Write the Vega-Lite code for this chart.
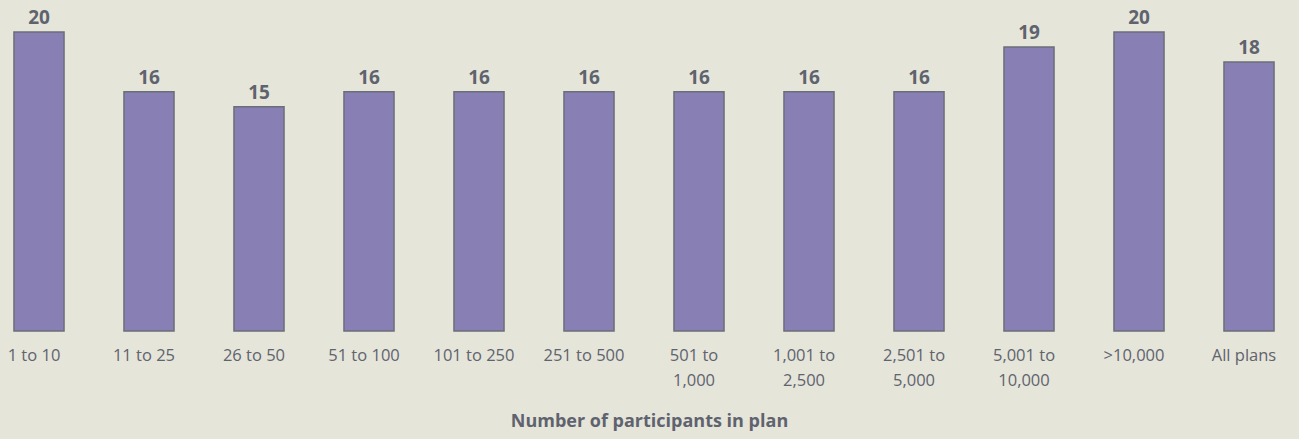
{
  "$schema": "https://vega.github.io/schema/vega-lite/v6.json",
  "width": 1288,
  "height": 299,
  "autosize": {"type": "none"},
  "padding": {"left": 0, "top": 32, "right": 11, "bottom": 108},
  "background": "#e5e5da",
  "config": {
    "view": {"stroke": null},
    "font": "Open Sans"
  },
  "data": {
    "values": [
      {"group": "1 to 10", "value": 20},
      {"group": "11 to 25", "value": 16},
      {"group": "26 to 50", "value": 15},
      {"group": "51 to 100", "value": 16},
      {"group": "101 to 250", "value": 16},
      {"group": "251 to 500", "value": 16},
      {"group": "501 to|1,000", "value": 16},
      {"group": "1,001 to|2,500", "value": 16},
      {"group": "2,501 to|5,000", "value": 16},
      {"group": "5,001 to|10,000", "value": 19},
      {"group": ">10,000", "value": 20},
      {"group": "All plans", "value": 18}
    ]
  },
  "encoding": {
    "x": {
      "field": "group",
      "type": "nominal",
      "sort": null,
      "scale": {"paddingInner": 0.545, "paddingOuter": 0.127},
      "axis": {
        "title": "Number of participants in plan",
        "titleFont": "Open Sans",
        "titleFontSize": 18,
        "titleFontWeight": "bold",
        "titleColor": "#5f636e",
        "titlePadding": 24,
        "titleX": 649,
        "labelExpr": "split(datum.value, '|')",
        "labelAngle": 0,
        "labelFontSize": 16.5,
        "labelColor": "#5f636e",
        "labelLineHeight": 25,
        "labelPadding": 16,
        "labelOffset": -5,
        "labelBaseline": "top",
        "domain": false,
        "ticks": false
      }
    },
    "y": {
      "field": "value",
      "type": "quantitative",
      "scale": {"domain": [0, 20], "nice": false, "zero": true},
      "axis": null
    }
  },
  "layer": [
    {
      "mark": {"type": "bar", "fill": "#8880b4", "stroke": "#6b6e78", "strokeWidth": 1.5}
    },
    {
      "mark": {"type": "text", "baseline": "alphabetic", "dy": -8, "fontSize": 19, "fontWeight": "bold", "color": "#5f636e"},
      "encoding": {"text": {"field": "value", "type": "quantitative"}}
    }
  ]
}
